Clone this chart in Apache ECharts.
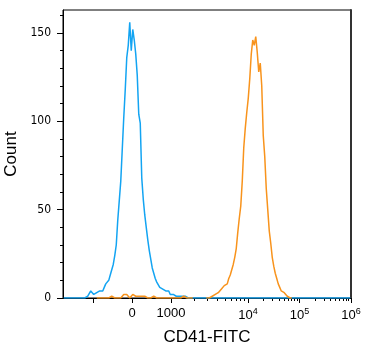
<!DOCTYPE html>
<html>
<head>
<meta charset="utf-8">
<script src="https://cdn.jsdelivr.net/npm/echarts@6/dist/echarts.min.js"></script>
<style>
  html, body { margin: 0; padding: 0; background: #fff; }
  #chart { width: 378px; height: 350px; }
</style>
</head>
<body>
<div id="chart"></div>
<script>
// counts per display channel (192 channels across the x axis)
const blueCounts = [
  0, 0, 0, 0, 0, 0, 0, 0, 0, 0, 0, 0, 0, 0, 0, 0,
  1, 2, 4, 3, 2, 3, 3, 2, 4, 5, 4, 6, 8, 9, 10, 13,
  16, 19, 24, 30, 44, 55, 66, 84, 102, 118, 136, 143, 156, 140, 152, 146,
  138, 126, 104, 99, 68, 56, 47, 40, 33, 27, 22, 17, 14, 11, 9, 8,
  6, 6, 5, 4, 4, 3, 4, 2, 3, 2, 2, 1, 2, 1, 1, 1,
  0, 1, 0, 0, 0, 0, 0, 0, 0, 0, 0, 0, 0, 0, 0, 0,
  0, 0, 0, 0, 0, 0, 0, 0, 0, 0, 0, 0, 0, 0, 0, 0,
  0, 0, 0, 0, 0, 0, 0, 0, 0, 0, 0, 0, 0, 0, 0, 0,
  0, 0, 0, 0, 0, 0, 0, 0, 0, 0, 0, 0, 0, 0, 0, 0,
  0, 0, 0, 0, 0, 0, 0, 0, 0, 0, 0, 0, 0, 0, 0, 0,
  0, 0, 0, 0, 0, 0, 0, 0, 0, 0, 0, 0, 0, 0, 0, 0,
  0, 0, 0, 0, 0, 0, 0, 0, 0, 0, 0, 0, 0, 0, 0, 0
]
const orangeCounts = [
  null, null, null, null, null, null, null, null, null, null, null, null, null, null, null, null,
  null, null, null, null, null, null, 0, 0, 0, 1, 0, 0, 0, 1, 0, 0,
  1, 0, 0, 1, 0, 1, 0, 1, 2, 3, 2, 1, 0, 1, 2, 2,
  1, 2, 1, 0, 1, 0, 1, 0, 0, 1, 0, 0, 1, 0, 0, 1,
  0, 0, 0, 1, 0, 0, 0, 1, 0, 0, 0, 1, 0, 0, 0, 0,
  1, 0, 0, 0, 0, 0, 0, null, null, null, null, null, null, null, null, 0,
  1, 0, 1, 1, 2, 2, 3, 3, 4, 5, 5, 7, 7, 8, 11, 13,
  16, 19, 23, 28, 37, 45, 52, 66, 85, 96, 105, 113, 124, 138, 146, 143,
  148, 139, 128, 133, 120, 92, 80, 62, 50, 38, 31, 23, 18, 14, 11, 8,
  6, 4, 3, 3, 2, 1, 1, 0, 0, null, null, null, null, null, null, null,
  null, null, null, null, null, null, null, null, null, null, null, null, null, null, null, null,
  null, null, null, null, null, null, null, null, null, null, null, null, null, null, null, null
]

// x ticks (CD41-FITC intensity, biexponential display)
const xMajorTicks = [-1000, 0, 1000, 1e4, 1e5, 1e6]
const xMajorLabels = ['', '0', '1000', '{b|10}{s|4}', '{b|10}{s|5}', '{b|10}{s|6}']
const xMinorTicks = [
  2000, 3000, 4000, 5000, 6000, 7000, 8000, 9000,
  2e4, 3e4, 4e4, 5e4, 6e4, 7e4, 8e4, 9e4,
  2e5, 3e5, 4e5, 5e5, 6e5, 7e5, 8e5, 9e5
]
const yMajorTicks = [0, 50, 100, 150]
const yMinorTicks = [10, 20, 30, 40, 60, 70, 80, 90, 110, 120, 130, 140, 160]

const CH = 192      // channels on the axis
const ZERO = 46     // channel of 0
const LIN = 26      // channels per 1000 in the linear part
const DEC1 = 51.33  // 10^3 .. 10^4
const DEC = 34.33   // per decade above 10^4

const toChannel = v => {
  if (v <= 1000) return ZERO + LIN * v / 1000
  const lg = Math.log10(v)
  if (lg <= 4) return ZERO + LIN + DEC1 * (lg - 3)
  return ZERO + LIN + DEC1 + DEC * (lg - 4)
}

const xMajorCh = xMajorTicks.map(toChannel)
const xMinorCh = xMinorTicks.map(toChannel)

const toSeries = counts => counts.map((c, i) => [i + 0.5, c])

const chart = echarts.init(document.getElementById('chart'))
const font = "'Liberation Sans', Arial, sans-serif"

chart.setOption({
  animation: false,
  grid: {
    left: 63, right: 27, top: 10, bottom: 52,
    show: true, borderColor: '#000', borderWidth: 1,
    outerBoundsMode: 'none'
  },
  xAxis: [
    {
      type: 'value', min: 0, max: CH,
      name: 'CD41-FITC', nameLocation: 'middle', nameGap: 31,
      nameTextStyle: { fontSize: 17, color: '#000', fontFamily: font },
      axisLine: { show: true, lineStyle: { color: '#000', width: 1 } },
      axisTick: { show: true, customValues: xMajorCh, length: 5, lineStyle: { color: '#000' } },
      axisLabel: {
        customValues: xMajorCh.slice(1),
        margin: 9,
        fontSize: 13,
        color: '#000',
        fontFamily: font,
        formatter: val => {
          const i = xMajorCh.findIndex(c => Math.abs(c - val) < 0.01)
          return i >= 0 ? xMajorLabels[i] : ''
        },
        rich: {
          b: { fontSize: 13, color: '#000', fontFamily: font },
          s: { fontSize: 9, color: '#000', fontFamily: font, padding: [0, 0, 8, 0] }
        }
      },
      splitLine: { show: false }
    },
    {
      type: 'value', min: 0, max: CH, position: 'bottom',
      axisLine: { show: false },
      axisTick: { show: true, customValues: xMinorCh, length: 3, lineStyle: { color: '#000' } },
      axisLabel: { show: false },
      splitLine: { show: false }
    }
  ],
  yAxis: [
    {
      type: 'value', min: 0, max: 163,
      name: 'Count', nameLocation: 'middle', nameGap: 41,
      nameTextStyle: { fontSize: 17, color: '#000', fontFamily: font },
      axisLine: { show: true, lineStyle: { color: '#000', width: 1 } },
      axisTick: { show: true, customValues: yMajorTicks, length: 6, lineStyle: { color: '#000' } },
      axisLabel: {
        customValues: yMajorTicks, margin: 12, fontSize: 12, color: '#000',
        fontFamily: "'Liberation Sans Narrow', 'DejaVu Sans Condensed', 'Liberation Sans', sans-serif"
      },
      splitLine: { show: false }
    },
    {
      type: 'value', min: 0, max: 163, position: 'left',
      axisLine: { show: false },
      axisTick: { show: true, customValues: yMinorTicks, length: 3, lineStyle: { color: '#000' } },
      axisLabel: { show: false },
      splitLine: { show: false }
    },
    {
      type: 'value', min: 0, max: 163, position: 'right',
      axisLine: { show: true, lineStyle: { color: '#333', width: 2 } },
      axisTick: { show: false },
      axisLabel: { show: false },
      splitLine: { show: false }
    }
  ],
  series: [
    {
      type: 'line', name: 'blue',
      data: toSeries(blueCounts),
      showSymbol: false,
      lineStyle: { color: '#13a4f2', width: 1.5 },
      itemStyle: { color: '#13a4f2' }
    },
    {
      type: 'line', name: 'orange',
      data: toSeries(orangeCounts),
      showSymbol: false,
      connectNulls: false,
      lineStyle: { color: '#f8931c', width: 1.5 },
      itemStyle: { color: '#f8931c' }
    }
  ]
})
</script>
</body>
</html>
